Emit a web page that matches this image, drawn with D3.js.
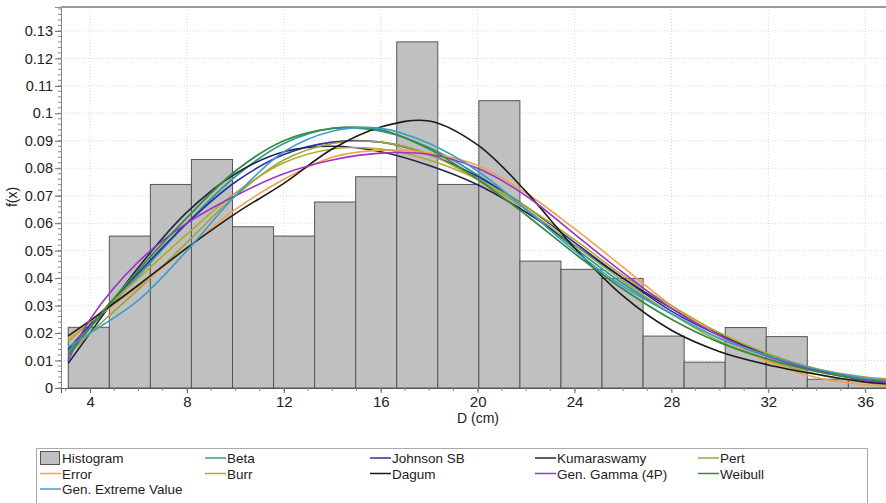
<!DOCTYPE html>
<html><head><meta charset="utf-8">
<script src="https://cdn.jsdelivr.net/npm/d3@7"></script>
<style>
html,body{margin:0;padding:0;background:#fff;}
svg{display:block;font-family:"Liberation Sans",Arial,sans-serif;}
</style></head>
<body><svg id="chart" width="886" height="503"></svg>
<script>
// ---- Data ----
const binStart = 3.1;
const binWidth = 1.695;
const histDensity = [0.0221, 0.0553, 0.0741, 0.0832, 0.0587, 0.0553, 0.0677, 0.0769, 0.126, 0.0741,
                     0.1046, 0.0462, 0.0432, 0.0399, 0.0189, 0.0094, 0.0220, 0.0187, 0.0032, 0.0030];

const curveX = [3.1, 4, 6, 8, 10, 12, 14, 16, 18, 20, 22, 24, 26, 28, 30, 32, 34, 36, 37];

const beta        = [0.013, 0.022, 0.041, 0.060, 0.077, 0.089, 0.0945, 0.0935, 0.0875, 0.0775, 0.065, 0.051, 0.038, 0.027, 0.018, 0.0115, 0.0065, 0.003, 0.002];
const johnsonSB   = [0.014, 0.023, 0.042, 0.060, 0.075, 0.085, 0.0895, 0.0895, 0.085, 0.077, 0.066, 0.053, 0.040, 0.028, 0.019, 0.012, 0.0068, 0.0033, 0.0022];
const kumaraswamy = [0.009, 0.020, 0.044, 0.064, 0.078, 0.086, 0.088, 0.086, 0.081, 0.074, 0.064, 0.052, 0.040, 0.029, 0.0195, 0.012, 0.0065, 0.0028, 0.0015];
const pert        = [0.012, 0.020, 0.036, 0.053, 0.070, 0.083, 0.089, 0.0895, 0.085, 0.076, 0.065, 0.052, 0.039, 0.027, 0.017, 0.010, 0.005, 0.002, 0.001];
const errorDist   = [0.018, 0.024, 0.037, 0.051, 0.065, 0.076, 0.084, 0.0866, 0.0855, 0.081, 0.071, 0.058, 0.044, 0.030, 0.019, 0.0095, 0.0038, 0.0012, 0.0007];
const burr        = [0.017, 0.024, 0.040, 0.056, 0.071, 0.082, 0.087, 0.087, 0.083, 0.076, 0.066, 0.054, 0.041, 0.030, 0.020, 0.0125, 0.007, 0.004, 0.0033];
const dagum       = [0.019, 0.0245, 0.0375, 0.051, 0.0635, 0.0745, 0.087, 0.095, 0.0972, 0.0885, 0.0715, 0.051, 0.0335, 0.021, 0.0132, 0.0084, 0.0050, 0.0022, 0.0015];
const genGamma4P  = [0.010, 0.025, 0.046, 0.060, 0.070, 0.078, 0.083, 0.0855, 0.085, 0.080, 0.070, 0.056, 0.042, 0.029, 0.019, 0.0115, 0.0062, 0.0028, 0.0018];
const weibull     = [0.012, 0.022, 0.043, 0.062, 0.079, 0.090, 0.0945, 0.094, 0.087, 0.076, 0.063, 0.049, 0.036, 0.025, 0.0165, 0.0105, 0.006, 0.0033, 0.0024];
const genExtreme  = [0.015, 0.020, 0.032, 0.050, 0.070, 0.086, 0.0935, 0.0945, 0.089, 0.079, 0.065, 0.050, 0.037, 0.027, 0.018, 0.0118, 0.0068, 0.0036, 0.0028];

const xTicks = [4, 8, 12, 16, 20, 24, 28, 32, 36];
const yTicks = [0, 0.01, 0.02, 0.03, 0.04, 0.05, 0.06, 0.07, 0.08, 0.09, 0.1, 0.11, 0.12, 0.13];

const series = [
  {name: "Beta", values: beta, color: "#2f9e8f", w: 1.8},
  {name: "Johnson SB", values: johnsonSB, color: "#2c2ca8", w: 1.6},
  {name: "Kumaraswamy", values: kumaraswamy, color: "#22224f", w: 1.6},
  {name: "Pert", values: pert, color: "#9ea53a", w: 1.6},
  {name: "Error", values: errorDist, color: "#f0a050", w: 1.6},
  {name: "Burr", values: burr, color: "#b0aa2a", w: 1.6},
  {name: "Dagum", values: dagum, color: "#1a1a1a", w: 1.6},
  {name: "Gen. Gamma (4P)", values: genGamma4P, color: "#9a35c8", w: 1.6},
  {name: "Weibull", values: weibull, color: "#3a8a3e", w: 1.8},
  {name: "Gen. Extreme Value", values: genExtreme, color: "#3a9fc8", w: 1.6}
];

// ---- Layout ----
const svg = d3.select("#chart");
const L = 61, T = 7, R = 887, B = 388;
const x = d3.scaleLinear().domain([2.8, 36.9]).range([L, R]);
const y = d3.scaleLinear().domain([0, 0.1387]).range([B, T]);

// grid
const grid = svg.append("g");
grid.selectAll("line.h").data(yTicks.filter(d => d > 0)).join("line")
  .attr("x1", L).attr("x2", R).attr("y1", d => y(d)).attr("y2", d => y(d))
  .attr("stroke", "#d8d8d8").attr("stroke-dasharray", "1,2");
grid.selectAll("line.v").data(xTicks).join("line")
  .attr("y1", T).attr("y2", B).attr("x1", d => x(d)).attr("x2", d => x(d))
  .attr("stroke", "#d8d8d8").attr("stroke-dasharray", "1,2");

// histogram
svg.append("g").selectAll("rect").data(histDensity).join("rect")
  .attr("x", (d, i) => x(binStart + i * binWidth))
  .attr("width", (d, i) => x(binStart + (i + 1) * binWidth) - x(binStart + i * binWidth))
  .attr("y", d => y(d))
  .attr("height", d => B - y(d))
  .attr("fill", "#c0c0c0").attr("stroke", "#555").attr("stroke-width", 1);

// curves
const line = d3.line().x(d => x(d[0])).y(d => y(d[1])).curve(d3.curveCatmullRom.alpha(0.5));
svg.append("clipPath").attr("id", "clip").append("rect")
  .attr("x", L).attr("y", T).attr("width", R - L).attr("height", B - T);
svg.append("g").attr("clip-path", "url(#clip)").selectAll("path").data(series).join("path")
  .attr("d", s => line(curveX.map((xv, i) => [xv, s.values[i]])))
  .attr("fill", "none").attr("stroke", s => s.color).attr("stroke-width", s => s.w);

// axes
const yAxis = d3.axisLeft(y).tickValues(yTicks).tickSize(6).tickFormat(d => d === 0 ? "0" : d3.format("~g")(d));
const gy = svg.append("g").attr("transform", `translate(${L},0)`).call(yAxis);
gy.select(".domain").attr("stroke", "#888");
gy.selectAll(".tick line").attr("stroke", "#666");
gy.selectAll("text").attr("font-size", 14.5).attr("fill", "#222").attr("font-family", "Liberation Sans, Arial").attr("x", -8);
// minor y ticks
svg.append("g").selectAll("line").data(d3.range(0, 0.1387, 0.002)).join("line")
  .attr("x1", L - 3).attr("x2", L).attr("y1", d => y(d)).attr("y2", d => y(d)).attr("stroke", "#888");

const xAxis = d3.axisBottom(x).tickValues(xTicks).tickSize(5).tickFormat(d3.format("d"));
const gx = svg.append("g").attr("transform", `translate(0,${B})`).call(xAxis);
gx.select(".domain").attr("stroke", "#555");
gx.selectAll(".tick line").attr("stroke", "#666");
gx.selectAll("text").attr("font-size", 15).attr("fill", "#222").attr("font-family", "Liberation Sans, Arial").attr("y", 8);
svg.append("g").selectAll("line").data(d3.range(3, 37, 1)).join("line")
  .attr("y1", B).attr("y2", B + 3).attr("x1", d => x(d)).attr("x2", d => x(d)).attr("stroke", "#888");

// top border
svg.append("line").attr("x1", L).attr("x2", 886).attr("y1", T).attr("y2", T).attr("stroke", "#999").attr("stroke-width", 2);

// axis titles
svg.append("text").attr("transform", "translate(17,197) rotate(-90)").attr("text-anchor", "middle")
  .attr("font-size", 14).attr("fill", "#222").text("f(x)");
svg.append("text").attr("x", 478).attr("y", 423).attr("text-anchor", "middle")
  .attr("font-size", 14).attr("fill", "#222").text("D (cm)");

// legend
svg.append("rect").attr("x", 36.5).attr("y", 448.5).attr("width", 831).attr("height", 60)
  .attr("fill", "#fff").attr("stroke", "#aaa");
const legendItems = [
  {name: "Histogram", hist: true}, series[0], series[1], series[2], series[3],
  series[4], series[5], series[6], series[7], series[8], series[9]
];
const colX = [40, 205, 370, 535, 698];
const rowY = [458, 473.5, 489];
const lg = svg.append("g");
legendItems.forEach((it, i) => {
  const c = i % 5, r = Math.floor(i / 5);
  const gx0 = colX[c], gy0 = rowY[r];
  if (it.hist) {
    lg.append("rect").attr("x", gx0 + 0.5).attr("y", gy0 - 6.5).attr("width", 19).attr("height", 13)
      .attr("fill", "#c0c0c0").attr("stroke", "#555");
  } else {
    lg.append("line").attr("x1", gx0).attr("x2", gx0 + 21).attr("y1", gy0).attr("y2", gy0)
      .attr("stroke", it.color).attr("stroke-width", 1.5);
  }
  lg.append("text").attr("x", gx0 + 22).attr("y", gy0 + 5).attr("font-size", 13.5).attr("fill", "#222").text(it.name);
});
</script></body></html>
